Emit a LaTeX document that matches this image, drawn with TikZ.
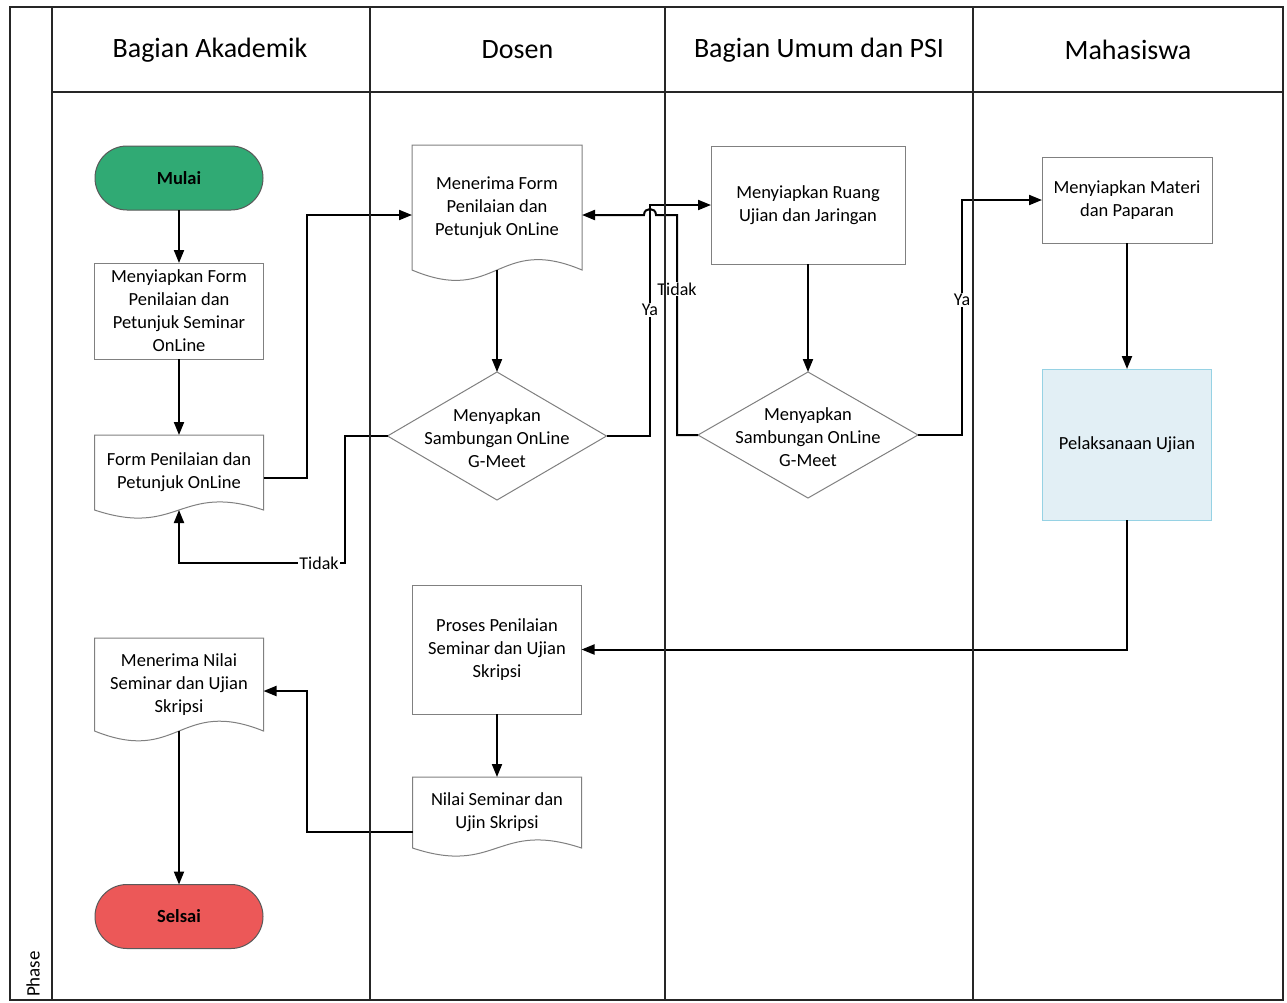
\documentclass[tikz,border=0pt]{standalone}
\usepackage{fontspec}
\setmainfont{Carlito}
\usetikzlibrary{arrows.meta,shapes.geometric,shapes.misc,calc}
\definecolor{startgreen}{RGB}{48,170,116}
\definecolor{endred}{RGB}{236,88,88}
\definecolor{execfill}{RGB}{226,239,245}
\definecolor{execline}{RGB}{150,210,228}
\newcommand\docoutline[2]{\draw[shapeline] (#1.north west) -- (#1.north east) -- (#1.south east) .. controls ($(#1.south)+(0,-#2)$) and ($(#1.south)+(0,#2)$) .. (#1.south west) -- cycle;}
\begin{document}
\begin{tikzpicture}[x=1pt,y=-1pt,
  lane/.style={draw=black!85,line width=1.3pt},
  shapeline/.style={draw=black!50,line width=1pt},
  bodytext/.style={font=\fontsize{18.5}{23}\selectfont,align=center},
  proc/.style={shapeline,rectangle,bodytext,inner sep=0pt,outer sep=0pt},
  docnode/.style={rectangle,bodytext,inner sep=0pt,outer sep=0pt},
  decis/.style={shapeline,diamond,inner sep=0pt,outer sep=0pt},
  term/.style={shapeline,draw=black!65,rounded rectangle,inner sep=0pt,outer sep=0pt,
    minimum width=168pt,minimum height=64pt,font=\fontsize{18.5}{23}\selectfont\bfseries},
  hdr/.style={font=\fontsize{28}{33}\selectfont},
  conn/.style={draw=black,line width=2pt,-{Triangle[length=13pt,width=10pt]}},
  lbl/.style={fill=white,inner sep=1pt,font=\fontsize{18}{22}\selectfont}
]
\useasboundingbox (0,0) rectangle (1287,1002);
\fill[white] (0,0) rectangle (1287,1002);

% headers
\node[hdr] (h1) at (210,50) {Bagian Akademik};
\node[hdr] (h2) at (517.5,50) {Dosen};
\node[hdr] (h3) at (819,50) {Bagian Umum dan PSI};
\node[hdr] (h4) at (1128,50) {Mahasiswa};
\node[rotate=90,font=\fontsize{19}{22}\selectfont] (phase) at (33,974) {Phase};

% Bagian Akademik
\node[term,fill=startgreen] (mulai) at (179,178) {Mulai};
\node[proc,minimum width=169pt,minimum height=96pt] (box1) at (179,311)
  {Menyiapkan Form\\Penilaian dan\\Petunjuk Seminar\\OnLine};
\node[docnode,minimum width=169pt,minimum height=75pt] (doc1) at (179,472.5)
  {Form Penilaian dan\\Petunjuk OnLine};
\docoutline{doc1}{28}
\node[docnode,minimum width=169pt,minimum height=93pt] (menilai) at (179,684.5)
  {Menerima Nilai\\Seminar dan Ujian\\Skripsi};
\docoutline{menilai}{34}
\node[term,fill=endred] (selsai) at (179,916.5) {Selsai};

% Dosen
\node[docnode,minimum width=170pt,minimum height=125pt] (doc2) at (497,207.5)
  {Menerima Form\\Penilaian dan\\Petunjuk OnLine};
\docoutline{doc2}{36}
\node[decis,minimum width=219pt,minimum height=128pt] (dia1) at (497,436) {};
\node[bodytext] (dia1t) at (497,438) {Menyapkan\\Sambungan OnLine\\G-Meet};
\node[proc,minimum width=169pt,minimum height=129pt] (proses) at (497,649.5)
  {Proses Penilaian\\Seminar dan Ujian\\Skripsi};
\node[docnode,minimum width=169pt,minimum height=71pt] (nilai) at (497,812.5)
  {Nilai Seminar dan\\Ujin Skripsi};
\docoutline{nilai}{28}

% Bagian Umum dan PSI
\node[proc,minimum width=194pt,minimum height=118pt] (box3) at (808,205)
  {Menyiapkan Ruang\\Ujian dan Jaringan};
\node[decis,minimum width=220pt,minimum height=126pt] (dia2) at (808,435) {};
\node[bodytext] (dia2t) at (808,437) {Menyapkan\\Sambungan OnLine\\G-Meet};

% Mahasiswa
\node[proc,minimum width=170pt,minimum height=86pt] (box4) at (1127,200)
  {Menyiapkan Materi\\dan Paparan};
\node[proc,draw=execline,fill=execfill,minimum width=169pt,minimum height=151pt] (box5) at (1127,444.5)
  {Pelaksanaan Ujian};

% helper coordinates
\coordinate (tj) at (677,215);
\coordinate (ya1x) at (650,0);
\coordinate (ya2x) at (962,0);
\coordinate (t1) at (345,563);
\coordinate (d2in) at (doc2.west |- tj);
\coordinate (d2out) at (doc2.east |- tj);

% connectors
\draw[conn] (mulai.south) -- (box1.north);
\draw[conn] (box1.south) -- (doc1.north);
\draw[conn] ($(doc1.east)+(0,5)$) -| ($(d2in)+(-105,0)$) -- (d2in);
\draw[conn] (doc2.south) -- (dia1.north);
\draw[conn] (dia1.west) -| (t1) -| (doc1.south);
\draw[conn] (dia1.east) -- (dia1.east -| ya1x) |- (box3.west);
\draw[conn] (dia2.west) -| (tj) -- (656,215) .. controls (656,207) and (644,207) .. (644,215) -- (d2out);
\draw[conn] (box3.south) -- (dia2.north);
\draw[conn] (dia2.east) -- (dia2.east -| ya2x) |- (box4.west);
\draw[conn] (box4.south) -- (box5.north);
\draw[conn] (box5.south) |- (proses.east);
\draw[conn] (proses.south) -- (nilai.north);
\draw[conn] ($(nilai.west)+(0,19)$) -| (307,691) -- ($(menilai.east)+(0,6.5)$);
\draw[conn] (menilai.south) -- (selsai.north);

% labels
\node[lbl] (lt1) at (319,563) {Tidak};
\node[lbl] (ly1) at (650,310) {Ya};
\node[lbl] (lt2) at (677,289) {Tidak};
\node[lbl] (ly2) at (962,300) {Ya};

% lanes
\draw[lane] (10,7) rectangle (1283,1000);
\draw[lane] (52,7) -- (52,1000);
\draw[lane] (52,92) -- (1283,92);
\draw[lane] (370,7) -- (370,1000);
\draw[lane] (665,7) -- (665,1000);
\draw[lane] (973,7) -- (973,1000);
\end{tikzpicture}
\end{document}
